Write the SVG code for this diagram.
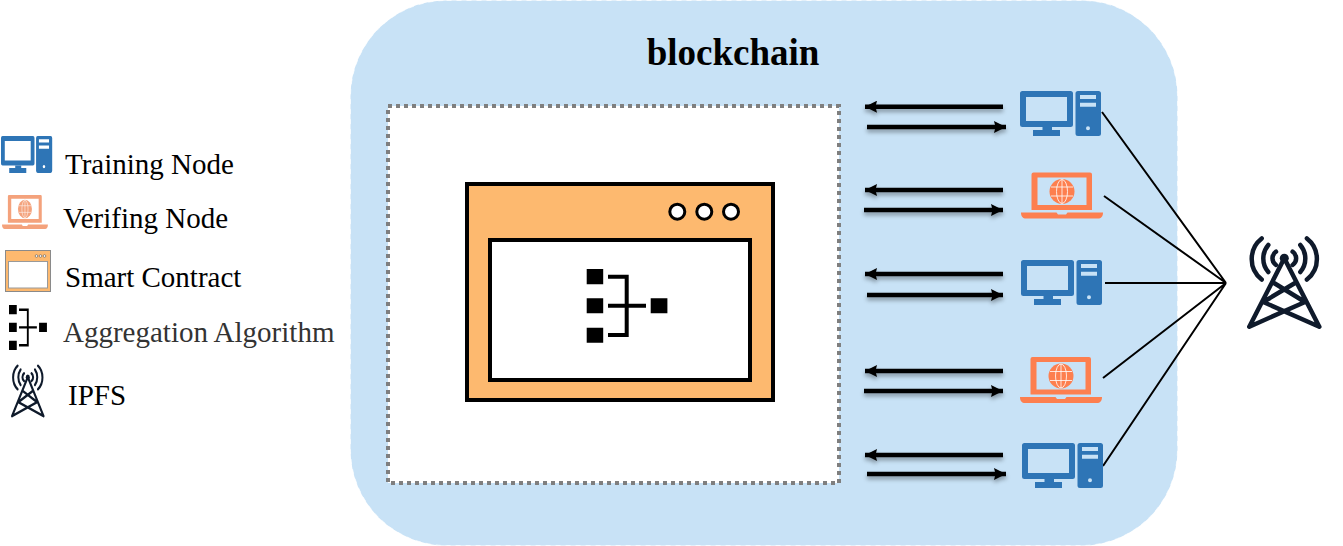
<svg xmlns="http://www.w3.org/2000/svg" width="1343" height="546" viewBox="0 0 1343 546">
<style>
text{font-family:"Liberation Serif","Times New Roman",serif;fill:#000}
.lg{font-size:29px}
.arrow{fill:none;stroke:#000;stroke-width:4.5;marker-end:url(#head);filter:url(#shadow)}
.link{stroke:#000;stroke-width:2;fill:none}
.tw{fill:none;stroke:#0f1a2b;stroke-width:4.5;stroke-linecap:round;stroke-linejoin:round}
</style>
<defs>
<marker id="head" viewBox="0 0 13 12" markerUnits="userSpaceOnUse" markerWidth="13" markerHeight="12" refX="12" refY="6" orient="auto">
<path d="M0 0L12 6L0 12L1.500 6Z" fill="#000"/>
</marker>
<filter id="shadow" filterUnits="userSpaceOnUse" x="0" y="0" width="1343" height="546">
<feDropShadow dx="0" dy="3" stdDeviation="2" flood-color="#000" flood-opacity=".35"/>
</filter>
<symbol id="desktop" viewBox="0 0 81 45" overflow="visible">
<path fill-rule="evenodd" d="M2.500 0H50.500A2.500 2.500 0 0 1 53 2.500V33.500A2.500 2.500 0 0 1 50.500 36H2.500A2.500 2.500 0 0 1 0 33.500V2.500A2.500 2.500 0 0 1 2.500 0ZM6 6V30H47V6Z"/>
<path d="M22.500 36H32V39H40V45H13V39H22.500Z"/>
<path fill-rule="evenodd" d="M58 0H78.500A2.500 2.500 0 0 1 81 2.500V42.500A2.500 2.500 0 0 1 78.500 45H58A2.500 2.500 0 0 1 55.500 42.500V2.500A2.500 2.500 0 0 1 58 0ZM60 4V8H76V4ZM60 11.700V15.700H76V11.700ZM68 35.300A2 2 0 1 0 68 39.300A2 2 0 1 0 68 35.300Z"/>
</symbol>
<symbol id="laptop" viewBox="0 0 82 46" overflow="visible">
<path fill-rule="evenodd" d="M12.500 0H69A2 2 0 0 1 71 2V37.500H10.500V2A2 2 0 0 1 12.500 0ZM16.500 5V32.500H65.500V5Z"/>
<path d="M0 40H35.500L37 42H45L46.500 40H82C82 44 80 46 77 46H5C2 46 0 44 0 40Z"/>
<circle cx="41" cy="19" r="12.500"/>
<g fill="none" stroke="#fff" stroke-width="1" stroke-opacity=".8"><ellipse cx="41" cy="19" rx="5.500" ry="12"/><path d="M41 7V31M30 14.500H52M30 23.500H52"/></g>
</symbol>
<symbol id="agg" viewBox="0 0 81 74" overflow="visible">
<path d="M0 0H16.500V15.300H0ZM0 29.300H16.500V44.300H0ZM0 58.700H16.500V73.700H0ZM64 29.300H80.700V44.300H64Z" fill="#000"/>
<path d="M21.300 7.700H40V66H21.300M21.300 36.700H59.300" fill="none" stroke="#000" stroke-width="4"/>
</symbol>
<symbol id="tower" viewBox="0 0 75 91" overflow="visible">
<circle cx="37.300" cy="21.300" r="4.500" fill="#0f1a2b"/>
<path class="tw" d="M37.300 21.300L2.300 89.700M37.300 21.300L72.300 89.700M27 46L58 65M48 46L16.300 65M16.300 65L72.300 89.700M58 65L2.300 89.700"/>
<path class="tw" d="M14.700 1.500A26 26 0 0 0 14.700 42.500M21.300 8A20.700 20.700 0 0 0 21.300 35M29 14.700A8 8 0 0 0 29 28M59.900 1.500A26 26 0 0 1 59.900 42.500M53.300 8A20.700 20.700 0 0 1 53.300 35M45.600 14.700A8 8 0 0 1 45.600 28"/>
</symbol>
</defs>

<g id="blockchain">
<rect x="350.500" y="0.500" width="827" height="545" rx="96" ry="96" fill="#c8e2f6" stroke="#fff" stroke-opacity=".7" stroke-width="1" stroke-dasharray="5 5"/>
<text x="733" y="65" font-size="37" font-weight="bold" text-anchor="middle">blockchain</text>
</g>
<g id="container">
<rect x="388" y="106" width="451" height="377" fill="#fff" stroke="#7f7f7f" stroke-width="4" stroke-dasharray="4 4"/>
</g>
<g id="smart-contract">
<rect x="467" y="184" width="306" height="216" fill="#fdb96f" stroke="#000" stroke-width="4"/>
<rect x="490" y="240" width="260" height="140" fill="#fff" stroke="#000" stroke-width="4"/>
<circle cx="677.300" cy="211.700" r="7.500" fill="#fff" stroke="#000" stroke-width="3"/>
<circle cx="704.300" cy="211.700" r="7.500" fill="#fff" stroke="#000" stroke-width="3"/>
<circle cx="731" cy="211.700" r="7.500" fill="#fff" stroke="#000" stroke-width="3"/>
<use href="#agg" x="586.700" y="269" width="81" height="74"/>
</g>

<g id="connectors">
<path class="arrow" d="M1003 106.700H865"/><path class="arrow" d="M867 127H1006"/>
<path class="arrow" d="M1003 190H865"/><path class="arrow" d="M864 210H1003"/>
<path class="arrow" d="M1003 274H865"/><path class="arrow" d="M867 295H1003"/>
<path class="arrow" d="M1003 371H865"/><path class="arrow" d="M864 391H1003"/>
<path class="arrow" d="M1003 455H865"/><path class="arrow" d="M867 474H1006"/>
<path class="link" d="M1102 112L1226 283M1104 196L1226 283M1105 283H1226M1103 378L1226 283M1103 466L1226 283"/>
</g>

<g id="node-1"><use href="#desktop" x="1020" y="91" width="81" height="45" fill="#2e75b6"/></g>
<g id="node-2"><use href="#laptop" x="1021" y="172.500" width="82" height="46" fill="#fd7f4f"/></g>
<g id="node-3"><use href="#desktop" x="1021" y="260" width="81" height="45" fill="#2e75b6"/></g>
<g id="node-4"><use href="#laptop" x="1020" y="357" width="82" height="46" fill="#fd7f4f"/></g>
<g id="node-5"><use href="#desktop" x="1022" y="443" width="81" height="45" fill="#2e75b6"/></g>
<g id="ipfs"><use href="#tower" x="1247" y="237" width="75" height="91"/></g>

<g id="legend-training">
<use href="#desktop" transform="translate(1 136) scale(.632 .82)" width="81" height="45" fill="#2e75b6"/>
<text class="lg" x="65" y="174">Training Node</text>
</g>
<g id="legend-verifying">
<use href="#laptop" transform="translate(2 195) scale(.56 .74)" width="82" height="46" fill="#f4a27c"/>
<text class="lg" x="63" y="227.500">Verifing Node</text>
</g>
<g id="legend-contract">
<rect x="5.500" y="250.500" width="45" height="41" fill="#fdb96f" stroke="#8a8a8a" stroke-width="1"/>
<rect x="8.500" y="261.500" width="39" height="26.500" fill="#fff" stroke="#999" stroke-width="1"/>
<circle cx="36.500" cy="256" r="1.300" fill="#fff" stroke="#555" stroke-width=".6"/>
<circle cx="40.500" cy="256" r="1.300" fill="#fff" stroke="#555" stroke-width=".6"/>
<circle cx="44.500" cy="256" r="1.300" fill="#fff" stroke="#555" stroke-width=".6"/>
<text class="lg" x="65" y="286.500">Smart Contract</text>
</g>
<g id="legend-aggregation">
<use href="#agg" transform="translate(9 305) scale(.47 .61)" width="81" height="74"/>
<text class="lg" x="63" y="342" style="fill:#333">Aggregation Algorithm</text>
</g>
<g id="legend-ipfs">
<use href="#tower" transform="translate(11 365) scale(.45 .57)" width="75" height="91"/>
<text class="lg" x="68" y="405">IPFS</text>
</g>
</svg>
